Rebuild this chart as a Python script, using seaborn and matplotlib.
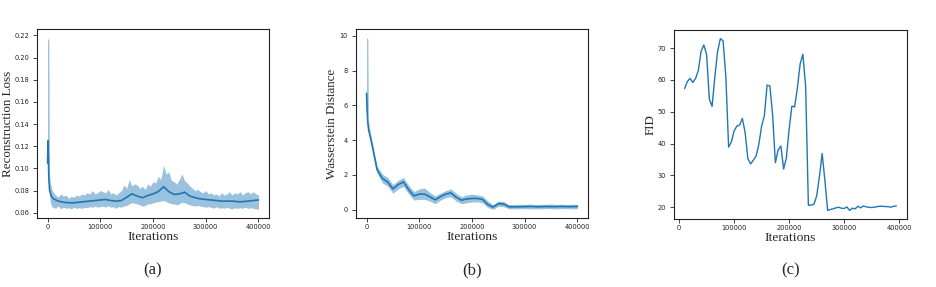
import matplotlib
matplotlib.use("Agg")
import matplotlib.pyplot as plt
import seaborn as sns
import pandas as pd

# iteration grid for the smoothed curves of panels (a) and (b)
iters = [0, 1000, 2500, 4000, 7000] + list(range(10000, 400001, 10000))

# (a) reconstruction loss: smoothed curve
recon_mean = [0.105, 0.125, 0.090, 0.080, 0.075,
              0.073, 0.0705, 0.0695, 0.069, 0.069, 0.0695, 0.070, 0.0705, 0.071, 0.0715,
              0.072, 0.071, 0.0705, 0.071, 0.074, 0.077, 0.075, 0.0735, 0.0755, 0.077,
              0.079, 0.0835, 0.079, 0.0765, 0.077, 0.0785, 0.075, 0.0735, 0.0725, 0.072,
              0.0715, 0.071, 0.0705, 0.0705, 0.0705, 0.070, 0.070, 0.0705, 0.071, 0.0715]
# (a) raw curve min/max envelope, read every 5000 iterations
recon_band_iters = [0, 2500, 3500, 5000, 7500] + list(range(10000, 400001, 5000))
recon_high = [0.218, 0.215, 0.100, 0.088, 0.082,
              0.079, 0.076, 0.074, 0.077, 0.075, 0.076, 0.073, 0.075, 0.074, 0.076,
              0.075, 0.077, 0.076, 0.078, 0.077, 0.080, 0.077, 0.078, 0.080, 0.079,
              0.078, 0.081, 0.077, 0.078, 0.076, 0.078, 0.080, 0.085, 0.082, 0.090,
              0.084, 0.086, 0.085, 0.082, 0.084, 0.081, 0.086, 0.084, 0.088, 0.087,
              0.093, 0.090, 0.103, 0.095, 0.097, 0.089, 0.088, 0.086, 0.090, 0.095,
              0.089, 0.087, 0.084, 0.082, 0.080, 0.081, 0.079, 0.078, 0.080, 0.077,
              0.078, 0.076, 0.077, 0.075, 0.078, 0.076, 0.077, 0.079, 0.076, 0.078,
              0.077, 0.079, 0.076, 0.078, 0.079, 0.077, 0.079, 0.077, 0.076]
recon_low = [0.100, 0.095, 0.080, 0.070, 0.066,
             0.065, 0.064, 0.066, 0.0635, 0.065, 0.064, 0.0645, 0.0635, 0.065, 0.064,
             0.0645, 0.064, 0.065, 0.0645, 0.0655, 0.065, 0.066, 0.065, 0.0655, 0.066,
             0.065, 0.0665, 0.065, 0.0655, 0.064, 0.0655, 0.065, 0.066, 0.0665, 0.068,
             0.069, 0.0685, 0.068, 0.067, 0.066, 0.0665, 0.068, 0.068, 0.069, 0.0695,
             0.070, 0.0705, 0.071, 0.070, 0.069, 0.068, 0.068, 0.067, 0.068, 0.0695,
             0.069, 0.068, 0.067, 0.0665, 0.066, 0.0665, 0.066, 0.0655, 0.065, 0.0655,
             0.065, 0.064, 0.0655, 0.064, 0.0645, 0.064, 0.065, 0.064, 0.0635, 0.0645,
             0.064, 0.0645, 0.064, 0.065, 0.064, 0.0645, 0.064, 0.0635, 0.063]

# (b) wasserstein distance
wd_mean = [6.7, 5.8, 5.0, 4.6, 4.2,
           3.8, 2.3, 1.8, 1.6, 1.2, 1.45, 1.6, 1.15, 0.8, 0.9,
           0.9, 0.75, 0.57, 0.75, 0.9, 0.97, 0.72, 0.55, 0.62, 0.65,
           0.65, 0.6, 0.3, 0.15, 0.35, 0.33, 0.17, 0.17, 0.17, 0.18,
           0.19, 0.18, 0.17, 0.19, 0.18, 0.18, 0.19, 0.18, 0.18, 0.19]
wd_band_iters = [0, 2500, 3500, 5000, 7500] + list(range(10000, 400001, 10000))
wd_high = [9.9, 9.8, 5.3, 4.8, 4.4,
           4.0, 2.5, 2.05, 1.85, 1.45, 1.7, 1.85, 1.4, 1.05, 1.2,
           1.25, 1.0, 0.8, 0.95, 1.1, 1.2, 0.95, 0.75, 0.85, 0.9,
           0.85, 0.8, 0.5, 0.3, 0.5, 0.48, 0.3, 0.3, 0.32, 0.3,
           0.33, 0.3, 0.32, 0.31, 0.33, 0.3, 0.32, 0.3, 0.32, 0.3]
wd_low = [6.0, 5.5, 4.7, 4.4, 4.0,
          3.6, 2.1, 1.55, 1.35, 0.95, 1.2, 1.35, 0.9, 0.55, 0.6,
          0.6, 0.5, 0.35, 0.55, 0.7, 0.75, 0.5, 0.35, 0.4, 0.45,
          0.45, 0.4, 0.12, 0.02, 0.2, 0.18, 0.05, 0.06, 0.05, 0.07,
          0.05, 0.06, 0.05, 0.07, 0.06, 0.05, 0.06, 0.07, 0.05, 0.06]

# (c) FID, evaluated every 5000 iterations
fid_iters = list(range(10000, 400000, 5000))
fid = [57.3, 59.5, 60.5, 59.2, 60.5, 63.0, 69.0, 71.0, 68.0, 54.0,
       51.7, 61.0, 69.0, 73.0, 72.3, 61.0, 38.9, 40.5, 44.0, 45.5,
       45.8, 47.9, 43.5, 35.3, 33.6, 34.8, 36.1, 39.8, 45.5, 48.8,
       58.4, 58.1, 49.0, 34.0, 38.0, 39.2, 32.0, 35.5, 44.5, 51.8,
       51.5, 57.5, 65.0, 68.1, 58.0, 20.6, 20.7, 20.9, 23.5, 29.5,
       36.9, 28.5, 19.0, 19.3, 19.5, 19.8, 20.0, 19.7, 19.6, 20.1,
       19.0, 19.7, 19.5, 20.3, 19.8, 20.4, 20.1, 20.0, 19.9, 20.0,
       20.2, 20.3, 20.3, 20.2, 20.2, 20.0, 20.3, 20.4]

sns.set_style("ticks")
plt.rcParams["font.family"] = ["DejaVu Sans"]

blue = "#1f77b4"
serif = ["Liberation Serif", "DejaVu Serif"]

fig = plt.figure(figsize=(9.36, 2.87), dpi=100)
W, H = 936, 287
boxes = [(37, 29, 232, 189), (356, 29, 232, 189), (674, 30, 233, 189)]
axes = [fig.add_axes([l / W, (H - t - h) / H, w / W, h / H]) for l, t, w, h in boxes]

panels = [
    (recon_band_iters, recon_high, recon_low, recon_mean, "Reconstruction Loss", -0.099),
    (wd_band_iters, wd_high, wd_low, wd_mean, "Wasserstein Distance", -0.077),
]
for ax, (bx, high, low, mean, label, lx) in zip(axes[:2], panels):
    ax.fill_between(bx, low, high, color=blue, alpha=0.45, lw=0)
    df = pd.DataFrame({"iter": iters, "value": mean})
    sns.lineplot(data=df, x="iter", y="value", ax=ax, color=blue, lw=1.2)
    ax.set_ylabel(label, family=serif, fontsize=9.4)
    ax.yaxis.set_label_coords(lx, 0.5)

df_fid = pd.DataFrame({"iter": fid_iters, "fid": fid})
sns.lineplot(data=df_fid, x="iter", y="fid", ax=axes[2], color=blue, lw=1.0)
axes[2].set_ylabel("FID", family=serif, fontsize=9.4)
axes[2].yaxis.set_label_coords(-0.076, 0.5)

axes[0].set_yticks([0.06, 0.08, 0.10, 0.12, 0.14, 0.16, 0.18, 0.20, 0.22])
axes[0].set_yticklabels(["0.06", "0.08", "0.10", "0.12", "0.14", "0.16", "0.18", "0.20", "0.22"])
axes[1].set_yticks([0, 2, 4, 6, 8, 10])
axes[2].set_yticks([20, 30, 40, 50, 60, 70])

for ax, tag in zip(axes, ["(a)", "(b)", "(c)"]):
    ax.set_xticks([0, 100000, 200000, 300000, 400000])
    ax.set_xticklabels(["0", "100000", "200000", "300000", "400000"])
    ax.set_xlabel("Iterations", family=serif, fontsize=9.7)
    ax.xaxis.set_label_coords(0.5, -0.07)
    ax.tick_params(labelsize=4.8, length=2.7, width=0.6, colors="#222222")
    ax.tick_params(axis="x", pad=1.5)
    ax.tick_params(axis="y", pad=3)
    for s in ax.spines.values():
        s.set_linewidth(0.8)
        s.set_color("#222222")
    pos = ax.get_position()
    fig.text(pos.x0 + pos.width / 2, 0.059, tag, ha="center", va="center",
             family=serif, fontsize=12)

fig.savefig("out.png", dpi=100)
